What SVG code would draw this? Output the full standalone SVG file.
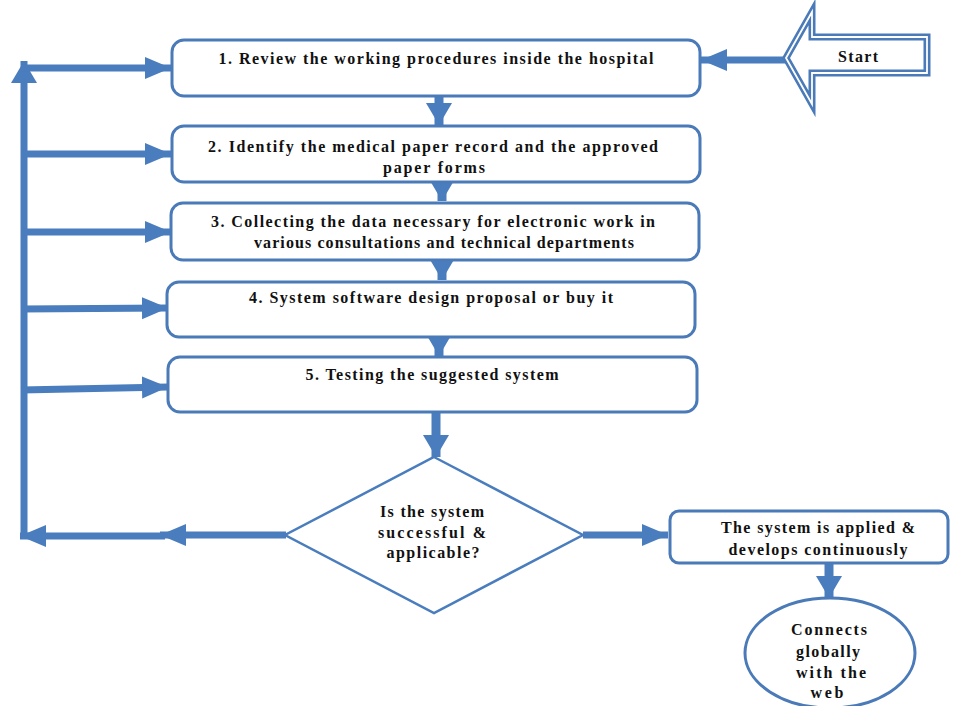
<svg xmlns="http://www.w3.org/2000/svg" width="956" height="706" viewBox="0 0 956 706">
  <style>
    .box { fill: #ffffff; stroke: #4A7AB8; stroke-width: 3; }
    .thin { fill: #ffffff; stroke: #4A7DBD; stroke-width: 2.5; }
    .conn { fill: none; stroke: #4A7DBD; stroke-width: 7; }
    .down { fill: none; stroke: #4A7DBD; stroke-width: 9; }
    text { font-family: "Liberation Serif", "Times New Roman", serif; font-weight: bold; font-size: 16px; fill: #111111; text-anchor: middle; }
  </style>
  <defs>
    <marker id="head" markerUnits="userSpaceOnUse" markerWidth="26" markerHeight="24" refX="26" refY="12" orient="auto">
      <path d="M0,1 L26,12 L0,23 z" fill="#4A7DBD"/>
    </marker>
    <marker id="headV" markerUnits="userSpaceOnUse" markerWidth="22" markerHeight="28" refX="22" refY="14" orient="auto">
      <path d="M0,1 L22,14 L0,27 z" fill="#4A7DBD"/>
    </marker>
  </defs>

  <rect width="956" height="706" fill="#ffffff"/>

  <!-- connectors -->
  <g id="connectors">
    <!-- start into step 1 -->
    <path class="conn" d="M788,60 L701,60" marker-end="url(#head)"/>
    <!-- step to step -->
    <path class="down" d="M439,97 L439,125" marker-end="url(#headV)"/>
    <path class="down" d="M442,170 L442,201" marker-end="url(#headV)"/>
    <path class="down" d="M442,258 L442,280" marker-end="url(#headV)"/>
    <path class="down" d="M439,330 L439,356" marker-end="url(#headV)"/>
    <path class="down" d="M436,412 L436,457" marker-end="url(#headV)"/>
    <!-- yes branch -->
    <path class="conn" d="M583,535 L668,535" marker-end="url(#head)"/>
    <path class="down" d="M829,563 L829,598" marker-end="url(#headV)"/>
    <!-- no branch: feedback loop -->
    <path class="conn" d="M286,535 L160,535" marker-end="url(#head)"/>
    <path class="conn" d="M165,536 L20,536" marker-end="url(#head)"/>
    <path class="conn" d="M24,539 L24,61" marker-end="url(#headV)"/>
    <path class="conn" d="M21,68 L171,68" marker-end="url(#head)"/>
    <path class="conn" d="M21,154 L171,154" marker-end="url(#head)"/>
    <path class="conn" d="M21,232 L171,232" marker-end="url(#head)"/>
    <path class="conn" d="M21,309 L168,308" marker-end="url(#head)"/>
    <path class="conn" d="M21,390 L168,387" marker-end="url(#head)"/>
  </g>

  <!-- start block arrow -->
  <g id="start">
    <path d="M786,58 L812,12 L812,37 L927,37 L927,73 L812,73 L812,104 Z" fill="#ffffff" stroke="#4A7AB8" stroke-width="7" stroke-linejoin="miter"/>
    <path d="M786,58 L812,12 L812,37 L927,37 L927,73 L812,73 L812,104 Z" fill="none" stroke="#ffffff" stroke-width="1.8" stroke-linejoin="miter"/>
    <text x="858" y="62" textLength="40" lengthAdjust="spacing">Start</text>
  </g>

  <g id="step1">
    <rect class="box" x="172" y="40" width="528" height="56" rx="12"/>
    <text x="436" y="64" textLength="435" lengthAdjust="spacing">1. Review the working procedures inside the hospital</text>
  </g>

  <g id="step2">
    <rect class="box" x="172" y="126" width="528" height="56" rx="12"/>
    <text x="433" y="152" textLength="450" lengthAdjust="spacing">2. Identify the medical paper record and the approved</text>
    <text x="434" y="173" textLength="102" lengthAdjust="spacing">paper forms</text>
  </g>

  <g id="step3">
    <rect class="box" x="171" y="203" width="528" height="57" rx="12"/>
    <text x="433" y="227" textLength="444" lengthAdjust="spacing">3. Collecting the data necessary for electronic work in</text>
    <text x="444" y="248" textLength="380" lengthAdjust="spacing">various consultations and technical departments</text>
  </g>

  <g id="step4">
    <rect class="box" x="167" y="282" width="528" height="55" rx="12"/>
    <text x="431" y="303" textLength="364" lengthAdjust="spacing">4. System software design proposal or buy it</text>
  </g>

  <g id="step5">
    <rect class="box" x="168" y="357" width="529" height="55" rx="12"/>
    <text x="432" y="380" textLength="253" lengthAdjust="spacing">5. Testing the suggested system</text>
  </g>

  <g id="decision">
    <polygon class="thin" points="434,457 583,535 434,613 285,535"/>
    <text x="432" y="517" textLength="104" lengthAdjust="spacing">Is the system</text>
    <text x="432" y="538" textLength="108" lengthAdjust="spacing">successful &amp;</text>
    <text x="433" y="558" textLength="93" lengthAdjust="spacing">applicable?</text>
  </g>

  <g id="applied">
    <rect class="box" x="670" y="511" width="278" height="52" rx="9"/>
    <text x="818" y="533" textLength="194" lengthAdjust="spacing">The system is applied &amp;</text>
    <text x="818" y="555" textLength="179" lengthAdjust="spacing">develops continuously</text>
  </g>

  <g id="web">
    <ellipse class="box" cx="830" cy="653" rx="85" ry="55"/>
    <text x="829" y="635" textLength="76" lengthAdjust="spacing">Connects</text>
    <text x="828" y="657" textLength="64" lengthAdjust="spacing">globally</text>
    <text x="831" y="678" textLength="70" lengthAdjust="spacing">with the</text>
    <text x="827" y="698" textLength="33" lengthAdjust="spacing">web</text>
  </g>
</svg>
